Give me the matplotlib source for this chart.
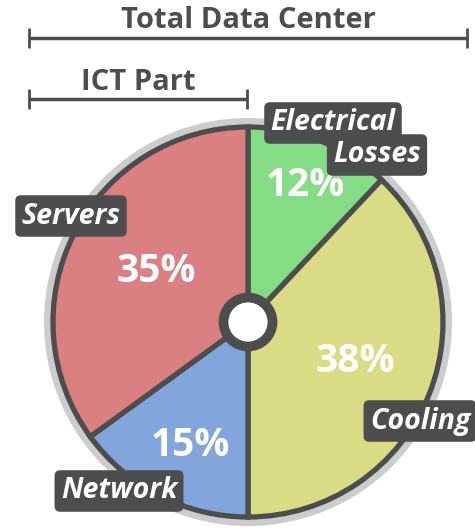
import matplotlib
matplotlib.use("Agg")
import matplotlib.pyplot as plt
from matplotlib.patches import Circle

plt.rcParams['font.family'] = ['Open Sans', 'DejaVu Sans']

# data
labels = ["Electrical\nLosses", "Cooling", "Network", "Servers"]
shares = [12, 38, 15, 35]
colors = ["#84dc84", "#d9dc84", "#82a6dc", "#db8080"]
pct_text = ["12%", "38%", "15%", "35%"]

W, H = 475, 530
dark = "#4d4d4d"

fig = plt.figure(figsize=(W / 100, H / 100), dpi=100)
ax = fig.add_axes([0, 0, 1, 1])

cx, cy = 248, H - 322
r = 195

# grey outer ring
ax.add_patch(Circle((cx, cy), r + 9, fc="#cccccc", ec="none", zorder=0))

wedges, _ = ax.pie(shares, colors=colors, startangle=90, counterclock=False,
                   center=(cx, cy), radius=r,
                   wedgeprops=dict(linewidth=3.8, edgecolor=dark))
for w in wedges:
    w.set_zorder(1)

# center hole
ax.add_patch(Circle((cx, cy), 24.5, fc="white", ec=dark, lw=7, zorder=3))

ax.set_xlim(0, W)
ax.set_ylim(0, H)
ax.set_aspect("auto")
ax.axis("off")

# percentages
pct_pos = [(305, 185), (355, 362), (190, 445), (156, 272)]
for t, (x, y) in zip(pct_text, pct_pos):
    ax.text(x, H - y, t, color="white", fontsize=28, fontweight="bold",
            ha="center", va="center", zorder=4)

# category labels in dark boxes
box = dict(boxstyle="round,pad=0.22,rounding_size=0.2", fc=dark, ec="none")
lab_kw = dict(color="white", fontsize=20.5, fontweight="bold", style="italic",
              va="center", zorder=5, bbox=box)
ax.text(333, H - 123, "Electrical", ha="center", **lab_kw)
ax.text(377, H - 155, "Losses", ha="center", **lab_kw)
ax.text(420, H - 421, labels[1], ha="center", **lab_kw)
ax.text(119, H - 491, labels[2], ha="center", **lab_kw)
ax.text(71, H - 216, labels[3], ha="center", **lab_kw)

# brackets
def bracket(x0, x1, y, txt, ty):
    ax.plot([x0, x1], [H - y, H - y], color=dark, lw=2.5, solid_capstyle="butt")
    for x in (x0, x1):
        ax.plot([x, x], [H - y + 10, H - y - 10], color=dark, lw=2,
                solid_capstyle="butt")
    ax.text((x0 + x1) / 2, H - ty, txt, color=dark, fontsize=21,
            fontweight="bold", ha="center", va="center")

bracket(29, 467, 38, "Total Data Center", 21)
bracket(29, 247, 99, "ICT Part", 82)

fig.savefig("out.png", dpi=100)
